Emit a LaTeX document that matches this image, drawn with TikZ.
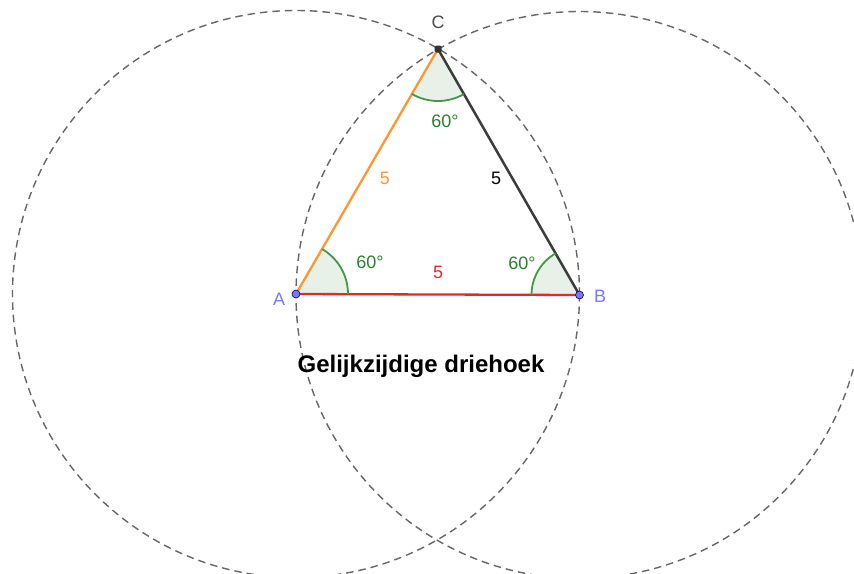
\documentclass[tikz,border=0pt]{standalone}
\usepackage{fontspec}
\setmainfont{Liberation Sans}
\usetikzlibrary{calc}
\definecolor{segorange}{RGB}{255,150,50}
\definecolor{segred}{RGB}{230,40,40}
\definecolor{seggray}{RGB}{60,60,60}
\definecolor{anggreen}{RGB}{40,130,40}
\definecolor{arcgreen}{RGB}{70,150,70}
\definecolor{ptblue}{RGB}{120,120,255}
\begin{document}
\begin{tikzpicture}[x=1pt,y=-1pt,
  circ/.style={draw=black!60, dash pattern=on 7.5pt off 5pt, line width=1.4pt},
  sector/.style={fill=green!40!black!10, fill opacity=0.9},
  arcline/.style={draw=arcgreen, line width=1.8pt},
  anglab/.style={text=anggreen, font=\fontsize{18}{21}\selectfont},
  ptlab/.style={text=ptblue, font=\fontsize{18}{21}\selectfont},
  seglab/.style={font=\fontsize{18}{21}\selectfont},
  bluept/.style={circle, fill=ptblue, draw=blue!40!black, line width=0.6pt, inner sep=0pt, minimum size=8pt},
]
\useasboundingbox (0,0) rectangle (854,573);
\clip (0,0) rectangle (854,573);
\coordinate (A) at (296,294);
\coordinate (B) at (579.5,295);
\coordinate (C) at (438,49);
% circles
\draw[circ] (A) circle (283.5);
\draw[circ] (B) circle (283.5);
% sectors
\fill[sector] (A) -- ++(0.2:52) arc[start angle=0.2, end angle=-59.8, radius=52] -- cycle;
\fill[sector] (B) -- ++(-119.8:48) arc[start angle=-119.8, end angle=-179.8, radius=48] -- cycle;
\fill[sector] (C) -- ++(60.2:52) arc[start angle=60.2, end angle=120.2, radius=52] -- cycle;
% sides
\draw[segorange, line width=2.3pt] (A) -- (C);
\draw[seggray, line width=2.5pt] (C) -- (B);
\draw[segred, line width=2.3pt] (A) -- (B);
% arcs
\draw[arcline] ($(A)+(0.2:52)$) arc[start angle=0.2, end angle=-59.8, radius=52];
\draw[arcline] ($(B)+(-119.8:48)$) arc[start angle=-119.8, end angle=-179.8, radius=48];
\draw[arcline] ($(C)+(60.2:52)$) arc[start angle=60.2, end angle=120.2, radius=52];
% points
\node[bluept] (pA) at (A) {};
\node[bluept] (pB) at (B) {};
\node[rectangle, fill=black!80, inner sep=0pt, minimum size=7pt, rounded corners=1.5pt] (pC) at (C) {};
% labels
\node[ptlab] (lA) at (279,299) {A};
\node[ptlab] (lB) at (600,296) {B};
\node[text=black!70, font=\fontsize{18}{21}\selectfont] (lC) at (438,22) {C};
\node[seglab, text=segorange] (s1) at (385,178) {5};
\node[seglab, text=black] (s2) at (496,178) {5};
\node[seglab, text=segred] (s3) at (438,272) {5};
\node[anglab] (a1) at (370,262) {60°};
\node[anglab] (a2) at (522,263) {60°};
\node[anglab] (a3) at (445,121) {60°};
\node[font=\bfseries\fontsize{24}{28}\selectfont] (title) at (421,366) {Gelijkzijdige driehoek};
\end{tikzpicture}
\end{document}
